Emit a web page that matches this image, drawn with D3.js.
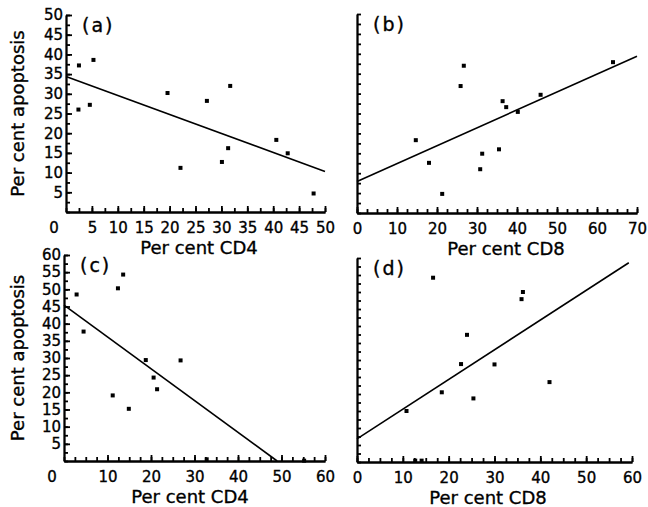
<!DOCTYPE html>
<html>
<head>
<meta charset="utf-8">
<script src="https://cdn.jsdelivr.net/npm/d3@7"></script>
<style>
  body { margin: 0; background: #fff; }
  svg { font-family: "DejaVu Sans", sans-serif; }
  svg text { stroke: #000; stroke-width: 0.35; }
  .axis path, .axis line { stroke: #000; stroke-width: 1.8; }
  .axis text { font-family: "DejaVu Sans", sans-serif; font-size: 15px; fill: #000; }
</style>
</head>
<body>
<svg id="chart" width="648" height="507"></svg>
<script>
// values
var cd4A = [2.5, 2.4, 4.6, 5.3, 19.6, 22.1, 27.2, 30.1, 31.3, 31.7, 40.6, 42.8, 47.8];
var apoA = [37.2, 26, 27.2, 38.6, 30.2, 11.2, 28.2, 12.7, 16.2, 32, 18.3, 14.9, 4.7];
var fitA = [[0, 34.4], [50, 10.3]];

var cd8B = [14.7, 18, 21.3, 25.9, 26.7, 30.8, 31.3, 35.5, 36.4, 37.3, 40.2, 45.9, 64];
var apoB = [18.3, 12.6, 4.8, 31.9, 37, 11, 14.9, 16, 28.1, 26.6, 25.4, 29.7, 37.9];
var fitB = [[0, 7.9], [70, 39.4]];

var cd4C = [2.9, 4.5, 11.2, 12.4, 13.6, 14.9, 18.8, 20.6, 21.4, 26.8, 32.8, 55.2];
var apoC = [48.5, 37.7, 19.1, 50.3, 54.3, 15.2, 29.4, 24.3, 20.9, 29.3, 0.5, 0.1];
var fitC = [[0, 45.4], [49, 0]];

var cd8D = [10.8, 12.7, 14.1, 16.6, 18.5, 22.7, 24, 25.4, 30, 35.9, 36.2, 42];
var apoD = [15, 0.4, 0.4, 54.2, 20.5, 28.8, 37.4, 18.7, 28.7, 47.9, 50, 23.5];
var fitD = [[0, 6.8], [59.3, 58.6]];

var ticksX50 = [5, 10, 15, 20, 25, 30, 35, 40, 45, 50];
var ticksY50 = [5, 10, 15, 20, 25, 30, 35, 40, 45, 50];
var ticksX70 = [0, 10, 20, 30, 40, 50, 60, 70];
var ticksX60c = [10, 20, 30, 40, 50, 60];
var ticksX60d = [0, 10, 20, 30, 40, 50, 60];
var ticksY60 = [5, 10, 15, 20, 25, 30, 35, 40, 45, 50, 55, 60];

var svg = d3.select("#chart");

function drawPanel(p) {
    var x = d3.scaleLinear().domain([0, p.xMax]).range([p.x0, p.x1]);
    var y = d3.scaleLinear().domain([0, p.yMax]).range([p.y0, p.y1]);
    var g = svg.append("g");

    // minor ticks every 2.5
    g.append("g").attr("class", "axis")
        .attr("transform", "translate(0," + p.y0 + ")")
        .call(d3.axisBottom(x).tickValues(d3.range(0, p.xMax + 0.1, 2.5))
            .tickSizeInner(-4).tickSizeOuter(0).tickFormat(""));
    g.append("g").attr("class", "axis")
        .attr("transform", "translate(" + p.x0 + ",0)")
        .call(d3.axisLeft(y).tickValues(d3.range(0, p.yMax + 0.1, 2.5))
            .tickSizeInner(-4).tickSizeOuter(0).tickFormat(""));

    // labelled ticks
    var xAxis = d3.axisBottom(x).tickValues(p.xTicks)
        .tickSizeInner(-6).tickSizeOuter(0).tickPadding(10);
    g.append("g").attr("class", "axis")
        .attr("transform", "translate(0," + p.y0 + ")")
        .call(xAxis);

    var yAxis = d3.axisLeft(y).tickValues(p.yTicks || [])
        .tickSizeInner(-6).tickSizeOuter(0).tickPadding(3);
    g.append("g").attr("class", "axis")
        .attr("transform", "translate(" + p.x0 + ",0)")
        .call(yAxis);

    if (p.cornerZero) {
        g.append("text").attr("x", p.x0 - 12).attr("y", p.y0 + 21)
            .attr("text-anchor", "middle").attr("font-size", 15).text("0");
    }

    // regression line
    g.append("line")
        .attr("x1", x(p.fit[0][0])).attr("y1", y(p.fit[0][1]))
        .attr("x2", x(p.fit[1][0])).attr("y2", y(p.fit[1][1]))
        .attr("stroke", "#000").attr("stroke-width", 1.6);

    // points
    g.selectAll("rect.pt").data(p.xs).enter().append("rect")
        .attr("class", "pt")
        .attr("x", function (d) { return x(d) - 2; })
        .attr("y", function (d, i) { return y(p.ys[i]) - 2; })
        .attr("width", 4).attr("height", 4).attr("fill", "#000");

    // panel tag
    g.append("text").attr("x", p.x0 + 16).attr("y", p.y1 + 17)
        .attr("font-size", 19).attr("letter-spacing", 2).text(p.tag);

    // axis titles
    g.append("text").attr("x", p.xTitleX).attr("y", p.y0 + 42)
        .attr("text-anchor", "middle").attr("font-size", 18).text(p.xTitle);
    if (p.yTitle) {
        g.append("text")
            .attr("transform", "translate(24," + ((p.y0 + p.y1) / 2) + ") rotate(-90)")
            .attr("text-anchor", "middle").attr("font-size", 18).text(p.yTitle);
    }
}

drawPanel({ tag: "(a)", xs: cd4A, ys: apoA, fit: fitA, xMax: 50, yMax: 50,
    x0: 66, x1: 325, y0: 212, y1: 15, xTicks: ticksX50, yTicks: ticksY50,
    cornerZero: true, xTitle: "Per cent CD4", xTitleX: 199, yTitle: "Per cent apoptosis" });
drawPanel({ tag: "(b)", xs: cd8B, ys: apoB, fit: fitB, xMax: 70, yMax: 50,
    x0: 357, x1: 637, y0: 213, y1: 14, xTicks: ticksX70,
    xTitle: "Per cent CD8", xTitleX: 506 });
drawPanel({ tag: "(c)", xs: cd4C, ys: apoC, fit: fitC, xMax: 60, yMax: 60,
    x0: 64, x1: 325, y0: 461, y1: 255, xTicks: ticksX60c, yTicks: ticksY60,
    cornerZero: true, xTitle: "Per cent CD4", xTitleX: 190, yTitle: "Per cent apoptosis" });
drawPanel({ tag: "(d)", xs: cd8D, ys: apoD, fit: fitD, xMax: 60, yMax: 60,
    x0: 357, x1: 632, y0: 462, y1: 258, xTicks: ticksX60d,
    xTitle: "Per cent CD8", xTitleX: 488 });
</script>
</body>
</html>
